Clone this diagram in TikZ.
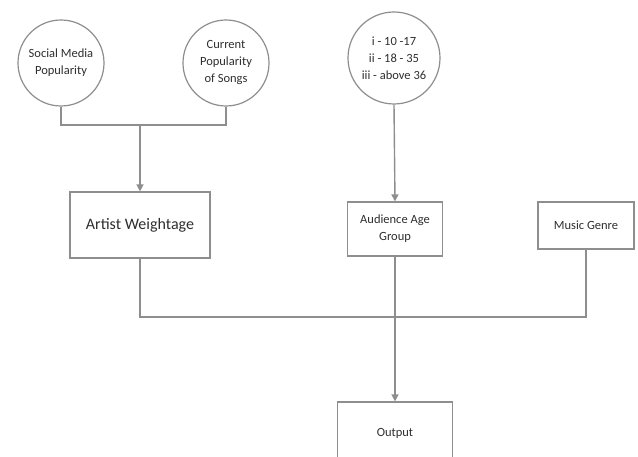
\documentclass[tikz,border=0pt]{standalone}
\usepackage{fontspec}
\setmainfont{Carlito}
\usetikzlibrary{arrows.meta}
\definecolor{linegray}{HTML}{8E8E8E}
\definecolor{textgray}{HTML}{2E2E2E}
\tikzset{
  bubble/.style={circle,draw=linegray,line width=1.2pt,minimum size=86pt,inner sep=0pt,align=center,text=textgray,font=\fontsize{12.5}{17}\selectfont},
  factor/.style={rectangle,draw=linegray,line width=1.2pt,inner sep=2pt,align=center,text=textgray,font=\fontsize{12.5}{17}\selectfont},
  link/.style={draw=linegray,line width=1.4pt},
  feed/.style={link,-{Triangle[length=7pt,width=7pt]}}
}
\begin{document}
\begin{tikzpicture}[x=1pt,y=1pt]
    \path[use as bounding box,clip] (0,0) rectangle (638,-457);
    % inputs
    \node[bubble] (social) at (61,-63) {Social Media\\Popularity};
    \node[bubble] (current) at (226,-63) {Current\\Popularity\\of Songs};
    \node[bubble,minimum size=92pt] (age) at (394,-58) {i - 10 -17\\ii - 18 - 35\\iii - above 36};
    % factors
    \node[factor,minimum width=140pt,minimum height=66pt,font=\fontsize{16}{18}\selectfont] (artist) at (140,-225) {Artist Weightage};
    \node[factor,minimum width=95pt,minimum height=54pt] (audience) at (395,-229) {Audience Age\\Group};
    \node[factor,minimum width=96pt,minimum height=47pt] (music) at (586,-225.5) {Music Genre};
    \node[factor,minimum width=115pt,minimum height=62pt] (output) at (395,-433) {Output};
    \coordinate (j1) at (140,-125);
    \coordinate (j2) at (395,-317);
    % connectors
    \draw[link] (social.south) |- (j1) -| (current.south);
    \draw[feed] (j1) -- (artist.north);
    \draw[feed] (age.south) -- (audience.north);
    \draw[link] (artist.south) |- (j2) -| (music.south);
    \draw[link] (audience.south) -- (j2);
    \draw[feed] (j2) -- (output.north);
  \end{tikzpicture}
\end{document}
